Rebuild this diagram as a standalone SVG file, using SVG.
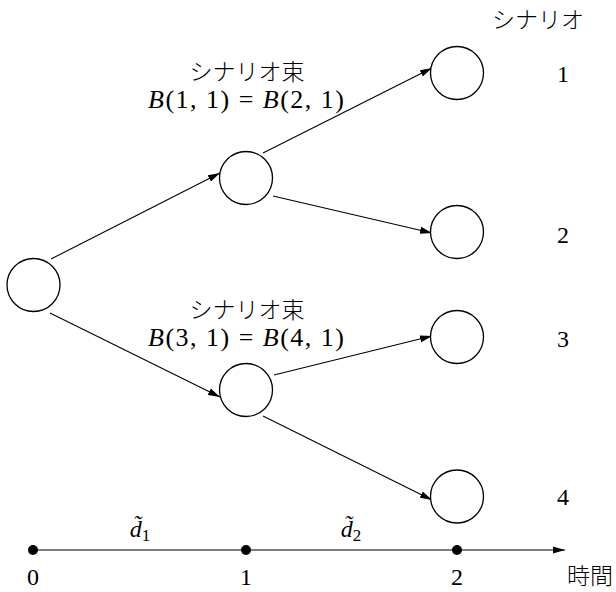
<svg xmlns="http://www.w3.org/2000/svg" width="616" height="592" viewBox="0 0 616 592">
<style>
.node{fill:#fff;stroke:#000;stroke-width:1.3}
.edge{stroke:#000;stroke-width:1.1;fill:none;marker-end:url(#ah)}
.t{font-family:"Liberation Serif","Times New Roman",serif;font-size:24px;fill:#000;text-anchor:middle}
.m{font-family:"Liberation Serif","Times New Roman",serif;font-size:26px;fill:#000;text-anchor:middle}
.jp{font-family:"Noto Sans CJK JP","Noto Sans CJK SC",sans-serif;font-size:23px;fill:#000;text-anchor:middle;font-weight:300}
.i{font-style:italic}
</style>
<defs>
<marker id="ah" markerWidth="12" markerHeight="8" refX="12" refY="4" orient="auto" markerUnits="userSpaceOnUse">
<path d="M0,0.5 L12,4 L0,7.5 Z" fill="#000"/>
</marker>
</defs>
<rect width="616" height="592" fill="#fff"/>
<g id="connectors">
<line class="edge" x1="51" y1="259" x2="220" y2="173"/>
<line class="edge" x1="50" y1="313" x2="220" y2="397"/>
<line class="edge" x1="263" y1="153" x2="432" y2="68"/>
<line class="edge" x1="273" y1="196" x2="432" y2="233"/>
<line class="edge" x1="274" y1="375" x2="432" y2="336"/>
<line class="edge" x1="263" y1="416" x2="432" y2="500"/>
<line class="edge" x1="33" y1="550" x2="565" y2="550"/>
</g>
<g id="n0"><ellipse class="node" cx="33.5" cy="285" rx="26.5" ry="26.5"/></g>
<g id="n1"><ellipse class="node" cx="246" cy="178" rx="26.5" ry="26.5"/></g>
<g id="n2"><ellipse class="node" cx="246" cy="390" rx="26.5" ry="26.5"/></g>
<g id="s1"><ellipse class="node" cx="457" cy="73" rx="26.5" ry="26.5"/></g>
<g id="s2"><ellipse class="node" cx="457" cy="232" rx="26.5" ry="26.5"/></g>
<g id="s3"><ellipse class="node" cx="457" cy="337" rx="26.5" ry="26.5"/></g>
<g id="s4"><ellipse class="node" cx="457" cy="496.5" rx="26.5" ry="26.5"/></g>
<g id="bundle1">
<text class="jp" x="247" y="80">シナリオ束</text>
<text class="m" x="246" y="108" textLength="196" lengthAdjust="spacing"><tspan class="i">B</tspan>(1, 1) = <tspan class="i">B</tspan>(2, 1)</text>
</g>
<g id="bundle2">
<text class="jp" x="247" y="318">シナリオ束</text>
<text class="m" x="246" y="346" textLength="196" lengthAdjust="spacing"><tspan class="i">B</tspan>(3, 1) = <tspan class="i">B</tspan>(4, 1)</text>
</g>
<g id="scenario-labels">
<text class="jp" x="538" y="28">シナリオ</text>
<text class="t" x="563" y="82">1</text>
<text class="t" x="563" y="243">2</text>
<text class="t" x="563" y="347">3</text>
<text class="t" x="563" y="505">4</text>
</g>
<g id="axis">
<circle cx="33" cy="550" r="5" fill="#000"/>
<circle cx="246" cy="550" r="5" fill="#000"/>
<circle cx="457" cy="550" r="5" fill="#000"/>
<text class="t" x="33" y="585">0</text>
<text class="t" x="246" y="585">1</text>
<text class="t" x="457" y="585">2</text>
<text class="jp" x="590" y="584">時間</text>
<text class="t" x="140" y="537"><tspan class="i">d̃</tspan><tspan font-size="17" dy="4">1</tspan></text>
<text class="t" x="351" y="537"><tspan class="i">d̃</tspan><tspan font-size="17" dy="4">2</tspan></text>
</g>
</svg>
